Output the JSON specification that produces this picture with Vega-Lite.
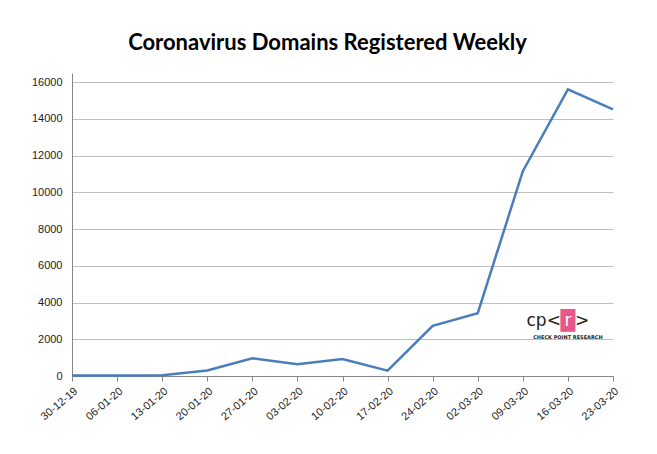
{
  "$schema": "https://vega.github.io/schema/vega-lite/v6.json",
  "width": 541,
  "height": 303,
  "autosize": "none",
  "padding": {"left": 72, "top": 73, "right": 44, "bottom": 78},
  "background": "white",
  "title": {
    "text": "Coronavirus Domains Registered Weekly",
    "font": "Lato",
    "fontSize": 22,
    "fontWeight": "bold",
    "color": "black",
    "anchor": "middle",
    "dx": -15,
    "offset": 18
  },
  "config": {
    "view": {"stroke": null},
    "axis": {
      "labelFont": "Liberation Sans",
      "labelFontSize": 11,
      "labelColor": "#222222",
      "domainColor": "#868686",
      "tickColor": "#868686",
      "title": null
    }
  },
  "datasets": {
    "weekly": [
      {"week": "30-12-19", "domains": 30},
      {"week": "06-01-20", "domains": 30},
      {"week": "13-01-20", "domains": 40},
      {"week": "20-01-20", "domains": 300},
      {"week": "27-01-20", "domains": 960},
      {"week": "03-02-20", "domains": 640},
      {"week": "10-02-20", "domains": 920},
      {"week": "17-02-20", "domains": 290},
      {"week": "24-02-20", "domains": 2730},
      {"week": "02-03-20", "domains": 3420},
      {"week": "09-03-20", "domains": 11150},
      {"week": "16-03-20", "domains": 15600},
      {"week": "23-03-20", "domains": 14510}
    ],
    "logo": [
      {"week": "16-03-20", "domains": 2800, "left": "cp<", "box": "█", "mid": "r", "right": ">", "small": "CHECK POINT RESEARCH"}
    ]
  },
  "layer": [
    {
      "data": {"name": "weekly"},
      "mark": {"type": "line", "color": "#4a7ebb", "strokeWidth": 2.5},
      "encoding": {
        "x": {
          "field": "week",
          "type": "ordinal",
          "sort": null,
          "scale": {"type": "point", "padding": 0},
          "axis": {"labelAngle": -40, "labelAlign": "right", "labelBaseline": "top", "tickSize": 5, "labelPadding": 4, "grid": false}
        },
        "y": {
          "field": "domains",
          "type": "quantitative",
          "scale": {"domain": [0, 16490], "nice": false},
          "axis": {
            "values": [0, 2000, 4000, 6000, 8000, 10000, 12000, 14000, 16000],
            "tickCount": 12,
            "format": "d",
            "labelOverlap": false,
            "ticks": false,
            "labelPadding": 10,
            "gridColor": "#bfbfbf",
            "domainColor": "#868686"
          }
        }
      }
    },
    {
      "data": {"name": "logo"},
      "mark": {"type": "text", "font": "DejaVu Sans", "fontSize": 19, "color": "#e8578a", "baseline": "middle", "dy": -4},
      "encoding": {
        "x": {"field": "week", "type": "ordinal", "sort": null},
        "y": {"field": "domains", "type": "quantitative"},
        "text": {"field": "box"}
      }
    },
    {
      "data": {"name": "logo"},
      "mark": {"type": "text", "font": "DejaVu Sans", "fontSize": 17, "color": "white", "baseline": "middle", "dy": -4},
      "encoding": {
        "x": {"field": "week", "type": "ordinal", "sort": null},
        "y": {"field": "domains", "type": "quantitative"},
        "text": {"field": "mid"}
      }
    },
    {
      "data": {"name": "logo"},
      "mark": {"type": "text", "font": "DejaVu Sans", "fontSize": 17, "color": "#222222", "baseline": "middle", "align": "right", "dx": -7, "dy": -4},
      "encoding": {
        "x": {"field": "week", "type": "ordinal", "sort": null},
        "y": {"field": "domains", "type": "quantitative"},
        "text": {"field": "left"}
      }
    },
    {
      "data": {"name": "logo"},
      "mark": {"type": "text", "font": "DejaVu Sans", "fontSize": 17, "color": "#222222", "baseline": "middle", "align": "left", "dx": 7, "dy": -4},
      "encoding": {
        "x": {"field": "week", "type": "ordinal", "sort": null},
        "y": {"field": "domains", "type": "quantitative"},
        "text": {"field": "right"}
      }
    },
    {
      "data": {"name": "logo"},
      "mark": {"type": "text", "font": "DejaVu Sans", "fontSize": 5, "fontWeight": "bold", "color": "#222222", "dy": 12},
      "encoding": {
        "x": {"field": "week", "type": "ordinal", "sort": null},
        "y": {"field": "domains", "type": "quantitative"},
        "text": {"field": "small"}
      }
    }
  ]
}
